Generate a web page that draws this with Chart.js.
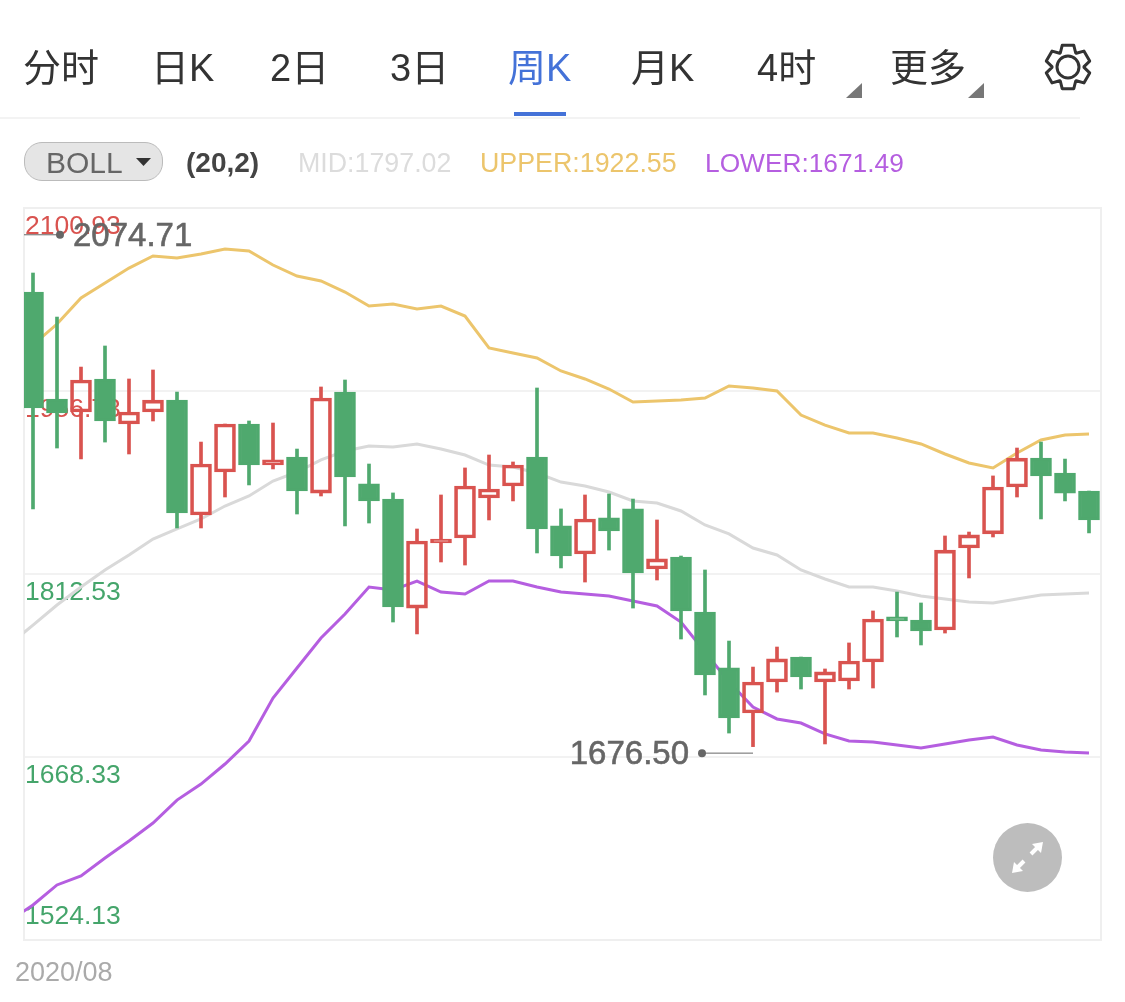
<!DOCTYPE html>
<html>
<head>
<meta charset="utf-8">
<title>周K</title>
<script src="https://cdn.jsdelivr.net/npm/chart.js@4/dist/chart.umd.js"></script>
<style>
html, body { margin: 0; padding: 0; background: #fff; }
body { width: 1125px; height: 1002px; overflow: hidden; position: relative; font-family: "Liberation Sans", "Noto Sans CJK SC", sans-serif; }
canvas { position: absolute; left: 0; top: 0; }
.tab { position: absolute; top: 43px; font-size: 38px; line-height: 50px; color: #333; white-space: nowrap; }
.tab.on { color: #4472d8; }
.corner { position: absolute; top: 83px; width: 0; height: 0; border-left: 16px solid transparent; border-bottom: 15px solid #777; }
#underline { position: absolute; left: 514px; top: 112px; width: 52px; height: 4px; background: #4472d8; }
#sep { position: absolute; left: 0; top: 117px; width: 1080px; height: 2px; background: #f3f3f3; }
#pill { position: absolute; left: 24px; top: 142px; width: 137px; height: 37px; border: 1px solid #bbb; border-radius: 18px; background: #e5e5e5; }
.txt { position: absolute; top: 146px; font-size: 26.8px; line-height: 34px; white-space: nowrap; }
</style>
</head>
<body>
<canvas id="kChart" width="1125" height="1002"></canvas>

<div class="tab" style="left:23px">分时</div>
<div class="tab" style="left:151px">日K</div>
<div class="tab" style="left:270px">2日</div>
<div class="tab" style="left:390px">3日</div>
<div class="tab on" style="left:508px">周K</div>
<div class="tab" style="left:631px">月K</div>
<div class="tab" style="left:757px">4时</div>
<div class="tab" style="left:890px">更多</div>
<div class="corner" style="left:846px"></div>
<div class="corner" style="left:968px"></div>
<div id="underline"></div>
<div id="sep"></div>
<svg style="position:absolute;left:1043px;top:42px" width="50" height="50" viewBox="-25 -25 50 50" fill="none" stroke="#333" stroke-width="3" stroke-linejoin="round">
  <circle r="11"/>
  <polygon id="gear"/>
</svg>

<div id="pill"></div>
<div class="txt" style="left:46px;top:146px;font-size:30px;color:#666">BOLL</div>
<svg style="position:absolute;left:136px;top:158px" width="15" height="8"><polygon points="0,0 15,0 7.500,8" fill="#333"/></svg>
<div class="txt" style="left:186px;font-size:28px;color:#444;font-weight:bold">(20,2)</div>
<div class="txt" id="midTxt" style="left:298px;color:#dcdcdc"></div>
<div class="txt" id="upperTxt" style="left:480px;color:#ecc56c"></div>
<div class="txt" id="lowerTxt" style="left:705px;font-size:26.3px;color:#b55ee0"></div>

<div id="dateTxt" style="position:absolute;left:15px;top:957px;font-size:27px;line-height:30px;color:#aaa"></div>

<svg style="position:absolute;left:993px;top:823px" width="69" height="69" viewBox="0 0 69 69">
  <circle cx="34.500" cy="34.500" r="34.500" fill="#bdbdbd"/>
  <path d="M38 31 L44 25 M25 44 L31 38" fill="none" stroke="#fff" stroke-width="4"/>
  <polygon points="50,19 48,30 39,21" fill="#fff"/>
  <polygon points="19,50 21,39 30,48" fill="#fff"/>
</svg>

<script>
// koersen per week
const opens = [2034.7,1950.4,1940.2,1966.2,1930.7,1940.2,1949.6,1859.0,1892.9,1930.7,1898.4,1904.7,1876.3,1955.9,1883.5,1871.6,1785.7,1837.0,1840.9,1872.4,1881.9,1904.7,1850.4,1828.3,1856.7,1863.8,1816.5,1825.9,1782.6,1738.5,1703.0,1727.4,1747.1,1727.4,1728.2,1743.2,1778.7,1776.3,1768.4,1833.0,1844.1,1881.1,1903.9,1892.1,1877.9];
const closes = [1943.3,1939.4,1965.4,1933.1,1940.2,1949.6,1860.6,1899.2,1930.7,1898.4,1902.4,1877.9,1951.2,1889.0,1870.1,1786.5,1838.5,1840.1,1881.9,1879.5,1898.4,1848.0,1826.7,1855.9,1846.4,1813.3,1824.4,1783.4,1733.0,1699.1,1727.4,1745.6,1731.4,1735.4,1744.0,1777.1,1775.5,1767.6,1831.4,1843.3,1881.1,1903.9,1889.8,1876.3,1855.1];
const highs = [2049.7,2015.0,1975.6,1992.2,1966.2,1973.3,1955.9,1916.5,1930.7,1933.1,1931.5,1911.0,1959.9,1965.4,1899.2,1876.4,1848.0,1874.8,1896.1,1906.3,1900.8,1959.1,1863.8,1874.8,1875.6,1871.6,1855.1,1826.7,1815.7,1759.7,1739.2,1755.0,1747.1,1737.7,1758.2,1783.4,1798.3,1789.7,1842.5,1845.6,1889.8,1911.8,1916.5,1903.1,1877.9];
const lows = [1863.8,1911.8,1903.2,1916.5,1907.1,1933.1,1848.8,1848.8,1873.2,1882.7,1895.3,1859.8,1874.0,1850.4,1852.7,1774.7,1765.3,1822.0,1819.6,1855.1,1870.1,1829.1,1817.3,1806.2,1831.4,1785.7,1807.8,1761.3,1717.2,1687.2,1676.5,1719.5,1721.9,1678.6,1721.9,1722.7,1762.9,1756.6,1766.0,1809.4,1841.7,1873.2,1855.9,1870.1,1844.9];

// boll lijnen, eerste waarde hoort bij de week links buiten beeld
const upperBand = [1974.8,1993.0,2009.5,2030.0,2041.8,2053.6,2063.1,2061.5,2064.7,2068.6,2067.0,2056.0,2047.3,2043.4,2034.7,2023.7,2025.3,2021.4,2023.7,2015.8,1990.6,1986.7,1982.7,1972.5,1966.2,1958.3,1948.1,1948.8,1949.6,1951.2,1960.7,1959.1,1956.7,1937.8,1929.9,1923.6,1923.6,1919.7,1915.0,1907.1,1900.0,1896.1,1907.9,1918.1,1922.0,1922.8];
const midBand = [1756.6,1772.3,1788.1,1802.3,1815.7,1827.5,1840.1,1848.0,1855.9,1866.1,1874.0,1885.8,1892.9,1902.4,1909.4,1913.4,1912.6,1915.0,1911.0,1906.3,1898.4,1896.8,1892.1,1885.0,1881.9,1877.1,1870.1,1868.5,1862.2,1851.2,1844.1,1833.0,1827.5,1815.7,1808.6,1802.3,1802.3,1799.1,1795.2,1792.8,1790.4,1789.7,1792.8,1795.9,1796.8,1797.5];
const lowerBand = [1539.1,1551.7,1567.5,1574.6,1588.7,1602.1,1616.3,1634.4,1647.0,1662.8,1680.9,1714.8,1738.5,1762.1,1781.0,1802.3,1799.9,1807.0,1798.3,1796.8,1807.0,1807.0,1802.3,1798.3,1796.8,1795.2,1791.3,1787.3,1774.7,1751.1,1727.4,1707.7,1698.3,1695.1,1686.5,1680.9,1680.1,1677.8,1675.4,1678.6,1681.7,1684.1,1677.8,1673.8,1672.3,1671.5];

const priceTicks = [2100.93, 1956.73, 1812.53, 1668.33, 1524.13];
const markWeeks = [-1, 30];
const markPrices = [2074.71, 1676.50];
const dateLabels = ['2020/08'];
const bollLabels = ['MID:1797.02', 'UPPER:1922.55', 'LOWER:1671.49'];

document.getElementById('dateTxt').textContent = dateLabels[0];
document.getElementById('midTxt').textContent = bollLabels[0];
document.getElementById('upperTxt').textContent = bollLabels[1];
document.getElementById('lowerTxt').textContent = bollLabels[2];

// tandwiel icoon, zes tanden
const gearPts = [];
for (let t = 0; t < 6; t++) {
	const a = (30 + t * 60) * Math.PI / 180;
	[[-0.5, 16], [-0.26, 22.5], [0.26, 22.5], [0.5, 16]].forEach(([d, r]) => {
		gearPts.push((r * Math.cos(a + d)).toFixed(1) + ',' + (r * Math.sin(a + d)).toFixed(1));
	});
}
document.getElementById('gear').setAttribute('points', gearPts.join(' '));

const RED = '#d9534f', GREEN = '#4fa96e', GREY = '#666';
const kleur = opens.map((o, i) => closes[i] >= o ? RED : GREEN);

const lijn = (values, color) => ({
	type: 'line',
	data: values.map((v, i) => ({ x: i - 1, y: v })),
	borderColor: color,
	borderWidth: 3,
	pointRadius: 0,
	tension: 0,
	order: 3
});

const lont = (values) => ({
	data: values.map((v, i) => ({ x: i, y: v })),
	backgroundColor: kleur,
	borderWidth: 0,
	barThickness: 3,
	grouped: false,
	order: 2
});

// kader en prijslabels onder de lijnen
const achtergrond = {
	id: 'achtergrond',
	beforeDatasetsDraw(chart) {
		const { ctx, chartArea: a, scales: { y } } = chart;
		ctx.save();
		ctx.strokeStyle = '#efefef';
		ctx.lineWidth = 2;
		ctx.strokeRect(a.left, a.top, a.right - a.left, a.bottom - a.top);
		ctx.font = '26.5px "Liberation Sans"';
		ctx.textBaseline = 'middle';
		priceTicks.forEach((t, i) => {
			const last = i === priceTicks.length - 1;
			ctx.fillStyle = t > 1900 ? RED : '#45a56b';
			ctx.fillText(t.toFixed(2), a.left + 1, y.getPixelForValue(t) + (last ? -23 : 19));
		});
		ctx.restore();
	}
};

// hoogste en laagste punt met streepje
const markers = {
	id: 'markers',
	afterDatasetsDraw(chart) {
		const { ctx, chartArea: a, scales: { x, y } } = chart;
		markWeeks.forEach((w, i) => {
			const top = i === 0;
			const px = x.getPixelForValue(w);
			const py = y.getPixelForValue(markPrices[i]) + (top ? -6.5 : 6.5);
			const dot = px + (top ? 51 : -51);
			ctx.save();
			ctx.beginPath();
			ctx.rect(a.left, a.top, a.right - a.left, a.bottom - a.top);
			ctx.clip();
			ctx.strokeStyle = GREY;
			ctx.lineWidth = 1;
			ctx.beginPath();
			ctx.moveTo(px, py);
			ctx.lineTo(dot, py);
			ctx.stroke();
			ctx.restore();
			ctx.save();
			ctx.fillStyle = GREY;
			ctx.strokeStyle = GREY;
			ctx.lineWidth = 0.6;
			ctx.beginPath();
			ctx.arc(dot, py, 4, 0, Math.PI * 2);
			ctx.fill();
			ctx.font = '33px "Liberation Sans"';
			ctx.textBaseline = 'middle';
			ctx.textAlign = top ? 'left' : 'right';
			const tx = dot + (top ? 13 : -13);
			ctx.fillText(markPrices[i].toFixed(2), tx, py + 2);
			ctx.strokeText(markPrices[i].toFixed(2), tx, py + 2);
			ctx.restore();
		});
	}
};

new Chart(document.getElementById('kChart'), {
	type: 'bar',
	data: {
		datasets: [
			lijn(upperBand, '#ecc56c'),
			lijn(midBand, '#d9d9d9'),
			lijn(lowerBand, '#b55ee0'),
			lont(highs.map((h, i) => [Math.max(opens[i], closes[i]), h])),
			lont(lows.map((l, i) => [l, Math.min(opens[i], closes[i])])),
			{
				data: opens.map((o, i) => ({ x: i, y: [o, closes[i]] })),
				backgroundColor: kleur.map(c => c === RED ? 'rgba(0,0,0,0)' : c),
				borderColor: kleur,
				borderWidth: 3,
				borderSkipped: false,
				barThickness: 21,
				grouped: false,
				order: 1
			}
		]
	},
	options: {
		responsive: false,
		animation: false,
		layout: { padding: { left: 24, right: 24, top: 208, bottom: 62 } },
		plugins: { legend: { display: false }, tooltip: { enabled: false } },
		scales: {
			x: {
				type: 'linear',
				offset: false,
				min: -0.375,
				max: 44.5,
				display: false
			},
			y: {
				min: 1524.13,
				max: 2100.93,
				afterBuildTicks(axis) { axis.ticks = priceTicks.map(v => ({ value: v })); },
				afterFit(axis) { axis.width = 0; },
				ticks: { display: false },
				border: { display: false },
				grid: { color: '#f2f2f2', lineWidth: 2, drawTicks: false }
			}
		}
	},
	plugins: [achtergrond, markers]
});
</script>
</body>
</html>
